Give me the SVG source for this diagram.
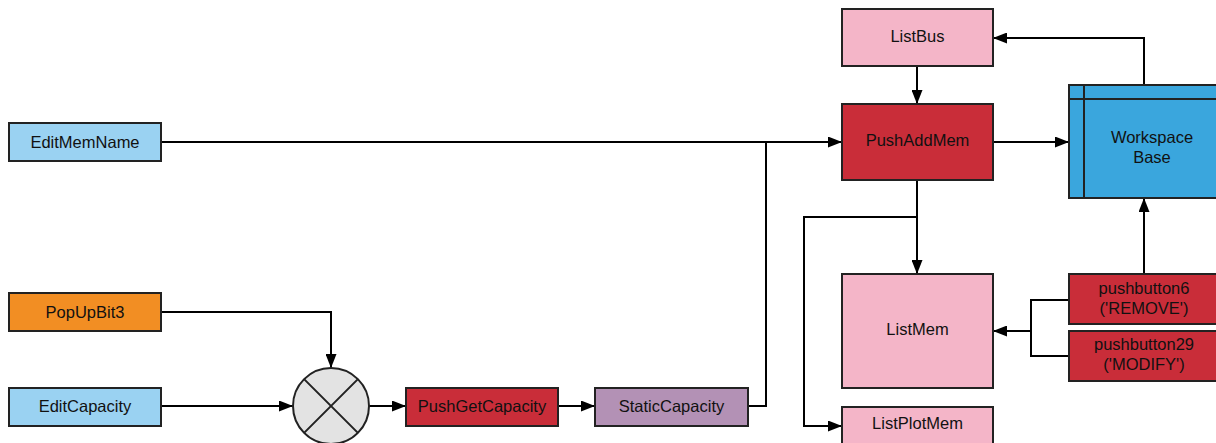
<svg xmlns="http://www.w3.org/2000/svg" width="1216" height="443" viewBox="0 0 1216 443">
  <defs>
    <marker id="arrow" viewBox="0 0 14 11" refX="14" refY="5.5" markerWidth="14" markerHeight="11" markerUnits="userSpaceOnUse" orient="auto">
      <path d="M0,0 L14,5.5 L0,11 Z" fill="#000"/>
    </marker>
  </defs>
  <style>
    .box { stroke: #222; stroke-width: 2; }
    .input { fill: #9ad2f2; }
    .popup { fill: #f28e23; }
    .push { fill: #c92d39; }
    .list { fill: #f4b5c8; }
    .static { fill: #b391b5; }
    .ws { fill: #3aa6dd; }
    .op { fill: #e3e3e3; }
    .lbl { font-family: "Liberation Sans", Arial, sans-serif; font-size: 16.5px; fill: #111; text-anchor: middle; dominant-baseline: central; }
    .wire { fill: none; stroke: #000; stroke-width: 2; }
    .inner { fill: none; stroke: #222; stroke-width: 2; }
  </style>

  <!-- connectors -->
  <g id="connectors">
    <path class="wire" d="M161,142 H842" marker-end="url(#arrow)"/>
    <path class="wire" d="M748,406 H766 V142"/>
    <path class="wire" d="M161,312 H331 V368" marker-end="url(#arrow)"/>
    <path class="wire" d="M161,406 H293" marker-end="url(#arrow)"/>
    <path class="wire" d="M369,406 H406" marker-end="url(#arrow)"/>
    <path class="wire" d="M558,406 H595" marker-end="url(#arrow)"/>
    <path class="wire" d="M917,66 V104" marker-end="url(#arrow)"/>
    <path class="wire" d="M993,142 H1069" marker-end="url(#arrow)"/>
    <path class="wire" d="M1144,85 V38 H993" marker-end="url(#arrow)"/>
    <path class="wire" d="M917,180 V274" marker-end="url(#arrow)"/>
    <path class="wire" d="M917,217 H804 V426 H842" marker-end="url(#arrow)"/>
    <path class="wire" d="M1144,274 V198" marker-end="url(#arrow)"/>
    <path class="wire" d="M1069,300 H1031 V356 H1069"/>
    <path class="wire" d="M1031,331 H993" marker-end="url(#arrow)"/>
  </g>

  <g id="EditMemName">
    <rect class="box input" x="9" y="123" width="152" height="38"/>
    <text class="lbl" x="85" y="142">EditMemName</text>
  </g>
  <g id="PopUpBit3">
    <rect class="box popup" x="9" y="293" width="152" height="38"/>
    <text class="lbl" x="85" y="312">PopUpBit3</text>
  </g>
  <g id="EditCapacity">
    <rect class="box input" x="9" y="388" width="152" height="38"/>
    <text class="lbl" x="85" y="406">EditCapacity</text>
  </g>
  <g id="Multiply">
    <circle class="box op" cx="331" cy="406" r="38"/>
    <path class="inner" d="M304.1,379.1 L357.9,432.9 M357.9,379.1 L304.1,432.9"/>
  </g>
  <g id="PushGetCapacity">
    <rect class="box push" x="406" y="388" width="152" height="38"/>
    <text class="lbl" x="482" y="406">PushGetCapacity</text>
  </g>
  <g id="StaticCapacity">
    <rect class="box static" x="595" y="388" width="153" height="38"/>
    <text class="lbl" x="671.5" y="406">StaticCapacity</text>
  </g>
  <g id="ListBus">
    <rect class="box list" x="842" y="9" width="151" height="57"/>
    <text class="lbl" x="917.5" y="36">ListBus</text>
  </g>
  <g id="PushAddMem">
    <rect class="box push" x="842" y="104" width="151" height="76"/>
    <text class="lbl" x="917.5" y="140">PushAddMem</text>
  </g>
  <g id="WorkspaceBase">
    <rect class="box ws" x="1069" y="85" width="151" height="113"/>
    <path class="inner" d="M1084,85 V198 M1069,99 H1220"/>
    <text class="lbl" x="1152" y="137">Workspace</text>
    <text class="lbl" x="1152" y="157">Base</text>
  </g>
  <g id="ListMem">
    <rect class="box list" x="842" y="274" width="151" height="114"/>
    <text class="lbl" x="917.5" y="329">ListMem</text>
  </g>
  <g id="ListPlotMem">
    <rect class="box list" x="842" y="407" width="151" height="50"/>
    <text class="lbl" x="917.5" y="423">ListPlotMem</text>
  </g>
  <g id="pushbutton6">
    <rect class="box push" x="1069" y="274" width="151" height="50"/>
    <text class="lbl" x="1144" y="288">pushbutton6</text>
    <text class="lbl" x="1144" y="308">('REMOVE')</text>
  </g>
  <g id="pushbutton29">
    <rect class="box push" x="1069" y="331" width="151" height="50"/>
    <text class="lbl" x="1144" y="344">pushbutton29</text>
    <text class="lbl" x="1144" y="364">('MODIFY')</text>
  </g>
</svg>
